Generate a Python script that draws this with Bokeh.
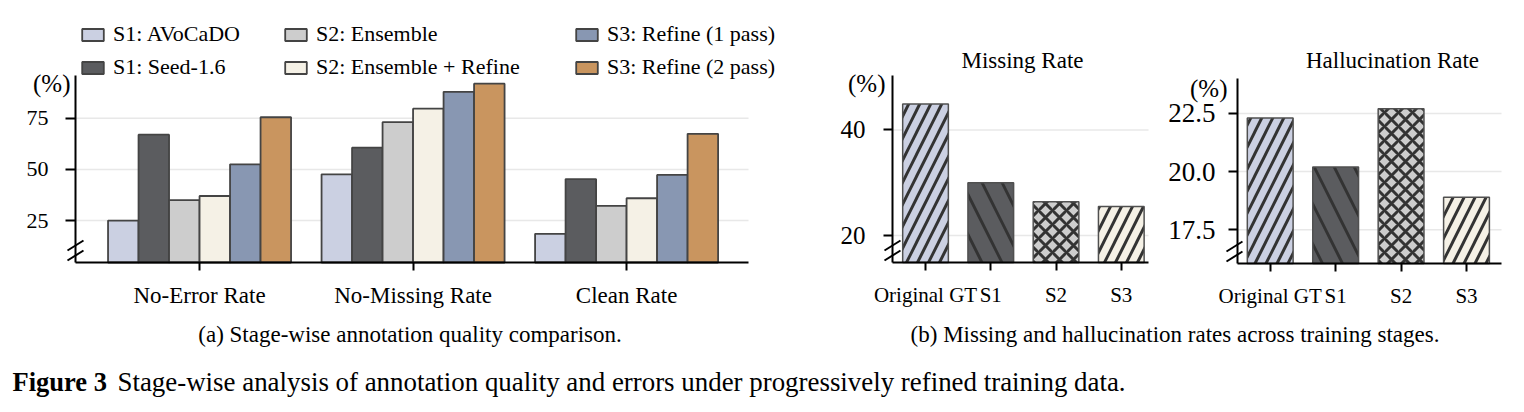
from bokeh.plotting import figure
from bokeh.layouts import row, column
from bokeh.models import (Range1d, FixedTicker, Legend, LegendItem, Label, Arrow,
                          NumeralTickFormatter)
from bokeh.embed import file_html
from bokeh.resources import INLINE

# ---------------- data ----------------
metrics = ["No-Error Rate", "No-Missing Rate", "Clean Rate"]
series_names = ["S1: AVoCaDO", "S1: Seed-1.6", "S2: Ensemble",
                "S2: Ensemble + Refine", "S3: Refine (1 pass)", "S3: Refine (2 pass)"]
s1_avocado = [25.0, 47.6, 18.5]
s1_seed = [67.0, 60.6, 45.3]
s2_ensemble = [35.0, 73.1, 32.2]
s2_ensemble_refine = [37.0, 79.7, 35.9]
s3_refine_1pass = [52.5, 87.9, 47.3]
s3_refine_2pass = [75.5, 91.9, 67.4]
left_ticks = [25, 50, 75]

stages = ["Original GT", "S1", "S2", "S3"]
missing_rate = [44.9, 30.0, 26.4, 25.5]
hallucination_rate = [22.3, 20.2, 22.7, 18.9]
missing_ticks = [20, 40]
halluc_ticks = [17.5, 20.0, 22.5]

caption_a = "(a) Stage-wise annotation quality comparison."
caption_b = "(b) Missing and hallucination rates across training stages."
fig_label = "Figure 3"
fig_caption = "Stage-wise analysis of annotation quality and errors under progressively refined training data."

# ---------------- style ----------------
SERIF = "Liberation Serif"
series_colors = ["#cbd0e2", "#5b5c5f", "#cdcdcd", "#f5f1e6", "#8897b2", "#c9955f"]
stage_fill = ["#cbd0e2", "#5b5c5f", "#cdcdcd", "#f5f1e6"]
stage_hatch = ["/", "\\", "x", "/"]
stage_hatch_scale = [22, 40, 14, 22]
EDGE = "#444444"
GRID = "#e8e8e8"
TOP_H = 318


def make_panel(W, box, xlim, ylim):
    """Figure whose frame fills the canvas; the visible axes box is `box` = (L, R, T, B) in px."""
    L, R, T, B = box
    sx = (xlim[1] - xlim[0]) / (R - L)
    sy = (ylim[1] - ylim[0]) / (B - T)
    xr = Range1d(xlim[0] - L * sx, xlim[1] + (W - R) * sx)
    yr = Range1d(ylim[0] - (TOP_H - B) * sy, ylim[1] + T * sy)
    p = figure(width=W, height=TOP_H, x_range=xr, y_range=yr, output_backend="svg",
               toolbar_location=None, min_border=0)
    p.outline_line_color = None
    p.grid.visible = False
    p.yaxis.fixed_location = xlim[0]
    p.yaxis.bounds = ylim
    p.xaxis.fixed_location = ylim[0]
    p.xaxis.bounds = xlim
    for ax in (p.xaxis[0], p.yaxis[0]):
        ax.axis_line_width = 2
        ax.axis_line_color = "black"
        ax.major_tick_line_width = 2
        ax.major_tick_line_color = "black"
        ax.major_tick_in = 0
        ax.minor_tick_line_color = None
        ax.major_label_text_font = SERIF
        ax.major_label_text_color = "black"
    return p


def add_grid(p, xlim, ticks):
    p.segment(x0=[xlim[0]] * len(ticks), x1=[xlim[1]] * len(ticks), y0=ticks, y1=ticks,
              line_color=GRID, line_width=1.5, level="underlay")


def add_break(p, box, dx0, dx1):
    L, R, T, B = box
    for dy in (2, 12):
        p.add_layout(Arrow(x_start=L + dx0, y_start=TOP_H - B + dy, x_end=L + dx1, y_end=TOP_H - B + dy + 10,
                           start_units="screen", end_units="screen", end=None, start=None,
                           line_width=2, line_color="black"))


def pct_label(p, xlim, ylim, xoff, yoff):
    p.add_layout(Label(x=xlim[0], y=ylim[1], x_offset=xoff, y_offset=yoff,
                       text="(%)", text_align="right", text_baseline="middle",
                       text_font=SERIF, text_font_size="25px", text_color="black"))


# ---------------- (a) grouped bars ----------------
BOX1 = (75, 748, 75, 262)
XL1 = (-0.581, 2.571)
YL1 = (4.5, 95.9)
p1 = make_panel(800, BOX1, XL1, YL1)
p1.yaxis.major_label_text_font_size = "22px"
p1.xaxis.major_label_text_font_size = "23px"
p1.yaxis.major_label_standoff = 17
p1.xaxis.major_label_standoff = 12
p1.yaxis.major_tick_out = 10
p1.xaxis.major_tick_out = 8
p1.yaxis.ticker = FixedTicker(ticks=left_ticks)
p1.xaxis.ticker = FixedTicker(ticks=list(range(len(metrics))))
p1.xaxis.major_label_overrides = {i: m for i, m in enumerate(metrics)}
add_grid(p1, XL1, left_ticks)

all_series = [s1_avocado, s1_seed, s2_ensemble, s2_ensemble_refine, s3_refine_1pass, s3_refine_2pass]
bw = 1.0 / 7.0
renderers = []
for k, vals in enumerate(all_series):
    xs = [i + (k - 2.5) * bw for i in range(len(metrics))]
    r = p1.vbar(x=xs, top=vals, bottom=YL1[0], width=bw, fill_color=series_colors[k],
                line_color=EDGE, line_width=1.8)
    renderers.append(r)

legend_x = [79, 282, 573]
for c in range(3):
    items = [LegendItem(label=series_names[2 * c + j], renderers=[renderers[2 * c + j]]) for j in range(2)]
    lg = Legend(items=items, location=(legend_x[c], 238), orientation="vertical",
                glyph_width=27, glyph_height=15, label_standoff=7, spacing=7,
                padding=0, margin=0, border_line_color=None, background_fill_alpha=0,
                label_text_font=SERIF, label_text_font_size="22px", label_text_color="black")
    p1.add_layout(lg)
pct_label(p1, XL1, YL1, -5, -8)
add_break(p1, BOX1, -8, 8)


# ---------------- (b) stage panels ----------------
def stage_plot(vals, title, W, box, xlim, ylim, ticks, ysize, ystandoff, title_dx, title_dy):
    p = make_panel(W, box, xlim, ylim)
    p.yaxis.major_label_text_font_size = ysize
    p.xaxis.major_label_text_font_size = "21px"
    p.yaxis.major_label_standoff = ystandoff
    p.xaxis.major_label_standoff = 12
    p.yaxis.major_tick_out = 9
    p.xaxis.major_tick_out = 8
    p.yaxis.ticker = FixedTicker(ticks=ticks)
    p.xaxis.ticker = FixedTicker(ticks=list(range(len(stages))))
    p.xaxis.major_label_overrides = {i: s for i, s in enumerate(stages)}
    add_grid(p, xlim, ticks)
    for i in range(len(stages)):
        p.vbar(x=[i], top=[vals[i]], bottom=ylim[0], width=0.7, fill_color=stage_fill[i],
               line_color="#505050", line_width=1.5,
               hatch_pattern=stage_hatch[i], hatch_color="#333333", hatch_weight=3,
               hatch_scale=stage_hatch_scale[i])
    p.add_layout(Label(x=(xlim[0] + xlim[1]) / 2, y=ylim[1], x_offset=title_dx, y_offset=title_dy,
                       text=title, text_align="center", text_baseline="middle",
                       text_font=SERIF, text_font_size="23px", text_color="black"))
    return p


BOX2 = (92, 348, 75, 262)
XL2 = (-0.506, 3.417)
YL2 = (14.9, 50.3)
p2 = stage_plot(missing_rate, "Missing Rate", 360, BOX2, XL2, YL2, missing_ticks, "25px", 18, 2, 15)
pct_label(p2, XL2, YL2, -7, -8)
add_break(p2, BOX2, -8, 8)

BOX3 = (77, 341, 78, 263)
XL3 = (-0.50, 3.535)
YL3 = (16.05, 24.0)
p3 = stage_plot(hallucination_rate, "Hallucination Rate", 364, BOX3, XL3, YL3, halluc_ticks, "27px", 13, 23, 18)
p3.yaxis.formatter = NumeralTickFormatter(format="0.0")
pct_label(p3, XL3, YL3, -10, -10)
add_break(p3, BOX3, -11, 5)

# ---------------- captions ----------------
CAP_H = 412 - TOP_H
pc = figure(width=1524, height=CAP_H, x_range=Range1d(0, 1524), y_range=Range1d(0, CAP_H),
            output_backend="svg", toolbar_location=None, min_border=0,
            x_axis_type=None, y_axis_type=None)
pc.grid.visible = False
pc.outline_line_color = None
pc.add_layout(Label(x=409.5, y=CAP_H - 16, text=caption_a, text_align="center", text_baseline="middle",
                    text_font=SERIF, text_font_size="23px", text_color="black"))
pc.add_layout(Label(x=1174.5, y=CAP_H - 16, text=caption_b, text_align="center", text_baseline="middle",
                    text_font=SERIF, text_font_size="23px", text_color="black"))
pc.add_layout(Label(x=12, y=CAP_H - 63, text=fig_label, text_align="left", text_baseline="middle",
                    text_font=SERIF, text_font_size="26.5px", text_font_style="bold", text_color="black"))
pc.add_layout(Label(x=117, y=CAP_H - 63, text=fig_caption, text_align="left", text_baseline="middle",
                    text_font=SERIF, text_font_size="26.9px", text_color="black"))

layout = column(row(p1, p2, p3), pc)
open("out.html", "w").write(file_html(layout, INLINE))
